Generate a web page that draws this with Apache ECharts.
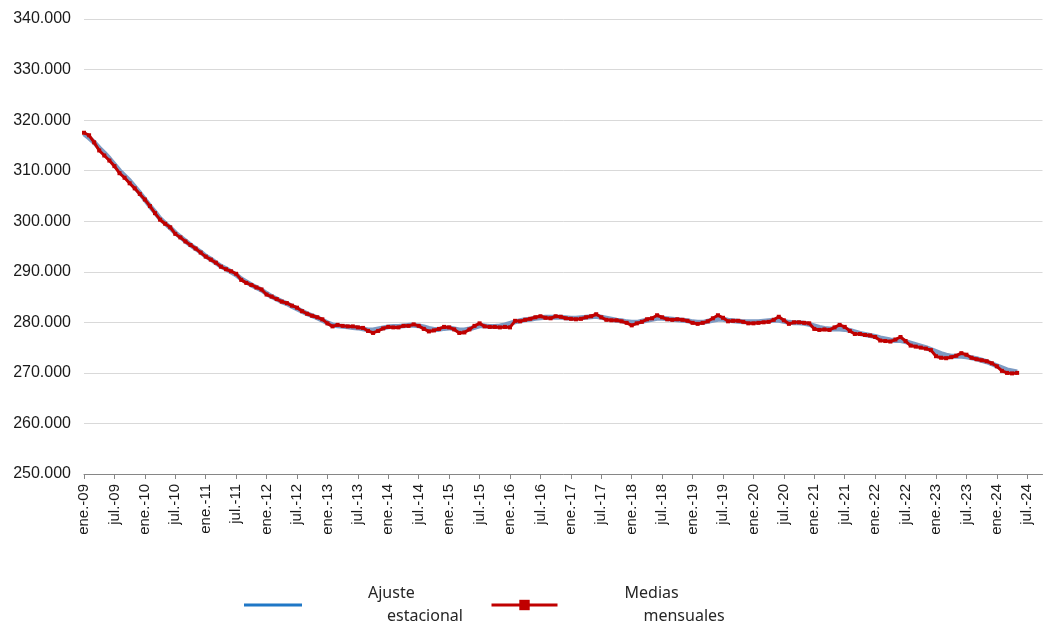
<!DOCTYPE html>
<html>
<head>
<meta charset="utf-8">
<script src="https://cdn.jsdelivr.net/npm/echarts@6/dist/echarts.min.js"></script>
<style>
html,body{margin:0;padding:0;background:#fff;}
#chart{width:1055px;height:626px;}
</style>
</head>
<body>
<div id="chart"></div>
<script>
// Month abbreviations and years used for category labels
const monthNames = ['ene.','feb.','mar.','abr.','may.','jun.','jul.','ago.','sep.','oct.','nov.','dic.'];
const years = ['09','10','11','12','13','14','15','16','17','18','19','20','21','22','23','24'];
const lastMonthOf2024 = 10; // axis runs to oct.-24

// Medias mensuales (red), ene.-09 .. may.-24
const mediasMensuales = [
  317500,317000,315600,314000,313000,312000,310900,309500,308600,307500,306500,305400,
  304300,303000,301600,300300,299500,298800,297500,296800,296000,295300,294600,293800,
  293000,292400,291800,291000,290500,290100,289600,288400,287800,287400,286900,286500,
  285500,285100,284600,284100,283800,283300,282900,282200,281700,281300,281000,280600,
  279800,279200,279500,279300,279200,279200,279000,278900,278300,277900,278300,278800,
  279100,279000,279000,279300,279300,279600,279300,278700,278200,278400,278700,279100,
  279000,278600,277900,278000,278600,279300,279800,279200,279100,279100,279000,279100,
  279000,280300,280200,280500,280700,281000,281200,280900,280800,281200,281100,280800,
  280700,280600,280700,281000,281200,281600,281000,280500,280400,280400,280200,279900,
  279400,279800,280100,280600,280800,281400,281000,280600,280500,280600,280500,280300,
  279900,279700,279900,280200,280800,281400,280900,280200,280300,280300,280100,279800,
  279800,279900,280000,280100,280500,281100,280400,279700,280000,280000,279900,279800,
  278700,278500,278600,278500,279000,279500,279100,278300,277700,277700,277500,277400,
  277100,276400,276300,276200,276600,277100,276300,275400,275200,275000,274800,274500,
  273300,273000,272900,273100,273400,273900,273600,273000,272700,272500,272300,271900,
  271300,270400,270000,269900,270000
];

// Ajuste estacional (blue), ene.-09 .. may.-24
const ajusteEstacional = [
  317300,316500,315600,314500,313500,312400,311200,310000,309000,308000,306800,305600,
  304300,303000,301800,300500,299600,298700,297700,296900,296100,295300,294600,293900,
  293100,292500,291800,291100,290600,290000,289400,288600,288000,287400,286900,286400,
  285700,285100,284600,284100,283700,283200,282700,282200,281700,281300,280900,280400,
  279900,279500,279300,279200,279100,279000,278900,278700,278500,278500,278700,278900,
  279100,279200,279200,279300,279400,279400,279300,279100,278800,278600,278600,278800,
  278900,278700,278500,278500,278700,279000,279300,279300,279200,279200,279300,279500,
  279800,280100,280300,280500,280600,280800,280900,281000,281000,281000,281000,280900,
  280800,280800,280900,281000,281100,281200,281000,280800,280600,280400,280300,280100,
  280000,280000,280200,280400,280600,280800,280800,280700,280600,280500,280400,280300,
  280100,280000,280000,280200,280400,280600,280600,280400,280300,280200,280100,280100,
  280100,280100,280200,280300,280400,280400,280200,280000,279900,279900,279800,279600,
  279300,279000,278800,278700,278700,278700,278600,278400,278100,277800,277600,277400,
  277200,276900,276700,276500,276400,276400,276200,275900,275600,275300,275000,274600,
  274200,273800,273500,273300,273300,273300,273200,273000,272800,272500,272200,271800,
  271400,271000,270600,270400,270200
];

const yMin = 250000, yMax = 340000, yStep = 10000;

const categories = [];
years.forEach(function (y) {
  const n = (y === '24') ? lastMonthOf2024 : 12;
  for (let i = 0; i < n; i++) categories.push(monthNames[i] + '-' + y);
});

function fmtThousands(v) {
  return String(v).replace(/\B(?=(\d{3})+(?!\d))/g, '.');
}

const axisFont = "'Liberation Sans', Arial, sans-serif";
const legendFont = "'Noto Sans', sans-serif";

const chart = echarts.init(document.getElementById('chart'), null, {renderer: 'canvas'});
chart.setOption({
  animation: false,
  backgroundColor: '#ffffff',
  grid: {left: 84, right: 12.5, top: 19, bottom: 152, containLabel: false},
  xAxis: {
    type: 'category',
    data: categories,
    boundaryGap: false,
    axisLine: {show: true, lineStyle: {color: '#868686', width: 1}},
    axisTick: {show: true, interval: 5, length: 5, lineStyle: {color: '#868686'}},
    axisLabel: {
      interval: 5, rotate: 90, margin: 10,
      fontFamily: axisFont, fontSize: 15, color: '#1a1a1a'
    },
    splitLine: {show: false}
  },
  yAxis: {
    type: 'value',
    min: yMin, max: yMax, interval: yStep,
    axisLine: {show: false},
    axisTick: {show: false},
    axisLabel: {
      margin: 13,
      fontFamily: axisFont, fontSize: 16, color: '#1a1a1a',
      formatter: function (v) { return fmtThousands(v); }
    },
    splitLine: {show: true, lineStyle: {color: '#d9d9d9', width: 1}}
  },
  legend: [
    {
      left: 244, top: 582, padding: 0,
      icon: 'rect',
      itemWidth: 58, itemHeight: 3, itemGap: 0,
      data: [{name: 'Ajuste estacional', itemStyle: {color: '#1f77c6'}}],
      textStyle: {
        fontFamily: legendFont, fontSize: 16, color: '#262626', lineHeight: 23,
        rich: {
          a: {fontFamily: legendFont, fontSize: 16, color: '#262626', lineHeight: 23, padding: [0, 0, 0, 61]},
          b: {fontFamily: legendFont, fontSize: 16, color: '#262626', lineHeight: 23, padding: [0, 0, 0, 80]}
        }
      },
      formatter: function () { return '{a|Ajuste}\n{b|estacional}'; }
    },
    {
      left: 490, top: 582, padding: 0,
      itemWidth: 66, itemHeight: 13, itemGap: 0,
      data: [{name: 'Medias mensuales', lineStyle: {width: 3}}],
      textStyle: {
        fontFamily: legendFont, fontSize: 16, color: '#262626', lineHeight: 23,
        rich: {
          a: {fontFamily: legendFont, fontSize: 16, color: '#262626', lineHeight: 23, padding: [0, 0, 0, 62]},
          b: {fontFamily: legendFont, fontSize: 16, color: '#262626', lineHeight: 23, padding: [0, 0, 0, 81]}
        }
      },
      formatter: function () { return '{a|Medias}\n{b|mensuales}'; }
    }
  ],
  series: [
    {
      name: 'Ajuste estacional',
      type: 'line',
      data: ajusteEstacional,
      symbol: 'none',
      smooth: false,
      lineStyle: {color: '#7d9bc3', width: 5},
      itemStyle: {color: '#7d9bc3'},
      z: 2
    },
    {
      name: 'Medias mensuales',
      type: 'line',
      data: mediasMensuales,
      symbol: 'rect',
      symbolSize: 4,
      showAllSymbol: true,
      lineStyle: {color: '#c00000', width: 3},
      itemStyle: {color: '#c00000'},
      z: 3
    }
  ]
});
</script>
</body>
</html>
